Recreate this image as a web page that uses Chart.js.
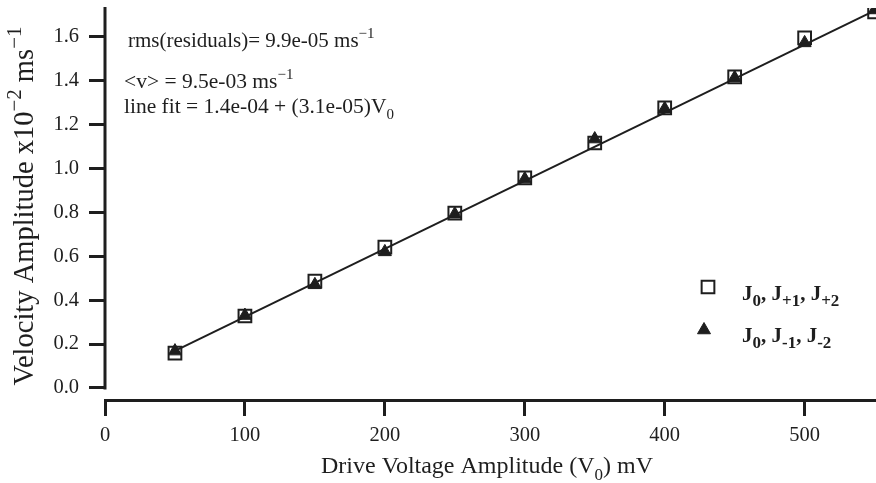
<!DOCTYPE html>
<html>
<head>
<meta charset="utf-8">
<script src="https://cdn.jsdelivr.net/npm/chart.js@4.4.0/dist/chart.umd.min.js"></script>
<style>
  html, body { margin: 0; padding: 0; background: #fff; }
  #wrap { width: 876px; height: 483px; position: relative; }
</style>
</head>
<body>
<div id="wrap"><canvas id="chart"></canvas></div>
<script>
// drive voltage (mV)
const voltages = [50, 100, 150, 200, 250, 300, 350, 400, 450, 500, 550];
// velocity amplitude (x10^-2 m/s), J0, J+1, J+2 harmonics
const velPlus = [0.159, 0.328, 0.487, 0.642, 0.797, 0.957, 1.116, 1.276, 1.417, 1.595, 1.713];
// velocity amplitude (x10^-2 m/s), J0, J-1, J-2 harmonics
const velMinus = [0.168, 0.330, 0.470, 0.620, 0.792, 0.952, 1.134, 1.272, 1.413, 1.572, 1.722];
// line fit endpoints: 1.4e-04 + (3.1e-05)V0
const fitX = [50, 550];
const fitY = [0.169, 1.719];

const xTicks = [0, 100, 200, 300, 400, 500];
const yTicks = [0, 0.2, 0.4, 0.6, 0.8, 1.0, 1.2, 1.4, 1.6];

// rich text pieces: [text, 'sup' | 'sub' | null]
const xTitle = [['Drive Voltage Amplitude (V', null], ['0', 'sub'], [') mV', null]];
const yTitle = [['Velocity Amplitude x10', null], ['\u22122', 'sup'], [' ms', null], ['\u22121', 'sup']];
const notes = [
    [['rms(residuals)= 9.9e-05 ms', null], ['\u22121', 'sup']],
    [['<v> = 9.5e-03 ms', null], ['\u22121', 'sup']],
    [['line fit = 1.4e-04 + (3.1e-05)V', null], ['0', 'sub']]
];
const legendLabels = [
    [['J', null], ['0', 'sub'], [', J', null], ['+1', 'sub'], [', J', null], ['+2', 'sub']],
    [['J', null], ['0', 'sub'], [', J', null], ['-1', 'sub'], [', J', null], ['-2', 'sub']]
];

const INK = '#1e1e1e';
const FONT = '"Liberation Serif", "Times New Roman", serif';

function drawRich(ctx, parts, x, y, size, weight, align, subScale) {
    const sc = subScale || 0.72;
    const fontFor = (k) => `${weight} ${k ? Math.round(size * sc) : size}px ${FONT}`;
    let total = 0;
    parts.forEach(([t, k]) => { ctx.font = fontFor(k); total += ctx.measureText(t).width; });
    let cx = align === 'center' ? x - total / 2 : x;
    ctx.textAlign = 'left';
    ctx.textBaseline = 'alphabetic';
    parts.forEach(([t, k]) => {
        ctx.font = fontFor(k);
        const dy = k === 'sup' ? -size * 0.42 : (k === 'sub' ? size * 0.28 : 0);
        ctx.fillText(t, cx, y + dy);
        cx += ctx.measureText(t).width;
    });
}

const decorations = {
    id: 'decorations',
    afterDraw(chart) {
        const ctx = chart.ctx;
        const xs = chart.scales.x, ys = chart.scales.y;
        ctx.save();
        // y axis line stops at zero
        ctx.strokeStyle = INK;
        ctx.lineWidth = 3;
        ctx.beginPath();
        ctx.moveTo(xs.left, chart.chartArea.top - 1);
        ctx.lineTo(xs.left, ys.getPixelForValue(0) + 1.5);
        ctx.stroke();

        ctx.fillStyle = INK;
        // axis titles
        drawRich(ctx, xTitle, 487, 473, 24, 'normal', 'center');
        ctx.save();
        ctx.translate(33, 206);
        ctx.rotate(-Math.PI / 2);
        drawRich(ctx, yTitle, 0, 0, 28.5, 'normal', 'center');
        ctx.restore();

        // annotations
        drawRich(ctx, notes[0], 128, 47, 21, 'normal', 'left');
        drawRich(ctx, notes[1], 124, 88, 21.5, 'normal', 'left');
        drawRich(ctx, notes[2], 124, 113, 21.5, 'normal', 'left');

        // legend
        const sets = [chart.data.datasets[1], chart.data.datasets[2]];
        const marks = [[708, 287], [704, 330]];
        const rows = [300, 342];
        sets.forEach((ds, i) => {
            ctx.fillStyle = ds.backgroundColor;
            ctx.strokeStyle = ds.borderColor;
            ctx.lineWidth = ds.borderWidth;
            Chart.helpers.drawPoint(ctx, {
                pointStyle: ds.pointStyle,
                radius: ds.pointRadius,
                borderWidth: ds.borderWidth,
                rotation: 0
            }, marks[i][0], marks[i][1]);
            ctx.fillStyle = INK;
            drawRich(ctx, legendLabels[i], 742, rows[i], 21, 'bold', 'left', 0.8);
        });
        ctx.restore();
    }
};

const ctx = document.getElementById('chart').getContext('2d');
new Chart(ctx, {
    type: 'scatter',
    data: {
        datasets: [{
            label: 'line fit',
            data: fitX.map((v, i) => ({ x: v, y: fitY[i] })),
            showLine: true,
            borderColor: INK,
            borderWidth: 2,
            pointRadius: 0,
            order: 0
        }, {
            label: 'J0, J+1, J+2',
            data: voltages.map((v, i) => ({ x: v, y: velPlus[i] })),
            pointStyle: 'rect',
            pointRadius: 9,
            borderWidth: 2,
            borderColor: INK,
            backgroundColor: 'rgba(255,255,255,0)',
            order: 2
        }, {
            label: 'J0, J-1, J-2',
            data: voltages.map((v, i) => ({ x: v, y: velMinus[i] })),
            pointStyle: 'triangle',
            pointRadius: 7.5,
            borderWidth: 1,
            borderColor: INK,
            backgroundColor: INK,
            order: 1
        }]
    },
    options: {
        responsive: true,
        maintainAspectRatio: false,
        animation: false,
        layout: { autoPadding: false, padding: { top: 8, right: 0, left: 0, bottom: 0 } },
        plugins: {
            legend: { display: false },
            tooltip: { enabled: false }
        },
        scales: {
            x: {
                type: 'linear',
                min: 0,
                max: 551,
                afterBuildTicks: (s) => { s.ticks = xTicks.map(v => ({ value: v })); },
                afterFit: (s) => { s.height = 83; s.paddingLeft = 0; s.paddingRight = 0; },
                border: { display: true, width: 3, color: INK },
                grid: { drawOnChartArea: false, tickLength: 16, tickWidth: 3, tickColor: INK },
                ticks: { padding: 7, color: INK, font: { family: FONT, size: 20.5 } }
            },
            y: {
                type: 'linear',
                min: -0.0547,
                max: 1.731,
                afterBuildTicks: (s) => { s.ticks = yTicks.map(v => ({ value: v })); },
                afterFit: (s) => { s.width = 105; s.paddingTop = 0; s.paddingBottom = 0; },
                border: { display: false },
                grid: { drawOnChartArea: false, tickLength: 16, tickWidth: 3, tickColor: INK },
                ticks: {
                    padding: 10, color: INK, font: { family: FONT, size: 20.5 },
                    callback: (v) => v.toFixed(1)
                }
            }
        }
    },
    plugins: [decorations]
});
</script>
</body>
</html>
